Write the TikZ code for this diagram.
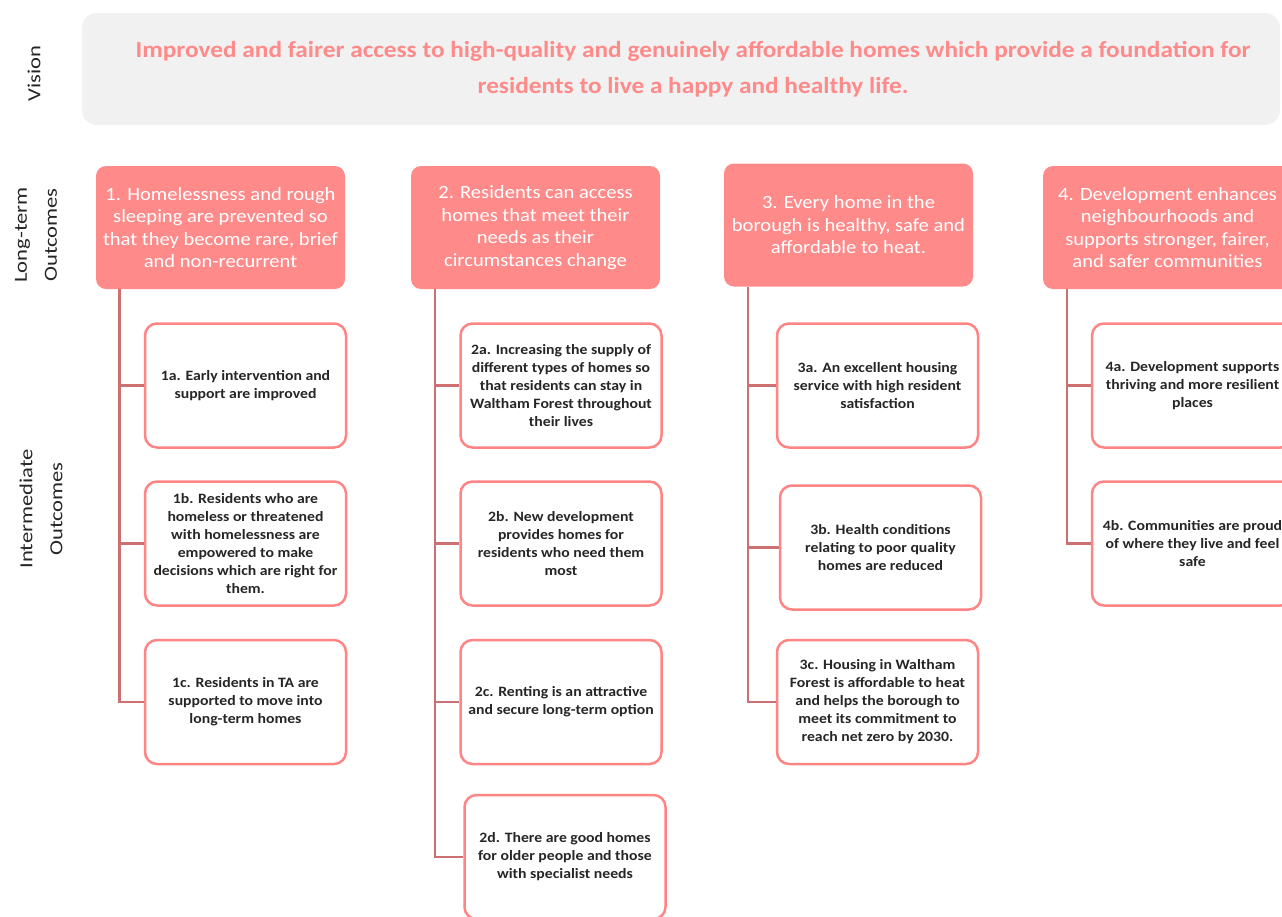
\documentclass[tikz,border=0pt]{standalone}
\usepackage{fontspec}
\setmainfont{Carlito}[FakeStretch=1.1]

\definecolor{salmon}{RGB}{255,138,138}
\definecolor{boxline}{RGB}{255,132,132}
\definecolor{trunkred}{RGB}{204,112,114}
\definecolor{visgray}{RGB}{241,241,241}
\definecolor{textdark}{RGB}{38,38,38}

\begin{document}
\begin{tikzpicture}[x=1pt,y=-1pt,
  visbox/.style ={fill=visgray, rounded corners=15pt, minimum width=1198pt, minimum height=112pt, inner sep=0pt},
  vistxt/.style ={text=salmon, align=center, font=\bfseries\fontsize{23}{36}\selectfont},
  ltbox/.style  ={fill=salmon, rounded corners=10pt, minimum width=249pt, minimum height=123pt,
                  inner sep=0pt, align=center, text=white, font=\fontsize{18.7}{22.5}\selectfont},
  iobox/.style  ={draw=boxline, line width=2.5pt, fill=white, rounded corners=12pt,
                  minimum width=201pt, minimum height=124pt, inner sep=0pt, align=center,
                  text=textdark, font=\bfseries\fontsize{14.3}{18}\selectfont},
  trunk/.style  ={draw=trunkred, line width=2.5pt},
  side/.style   ={rotate=90, xscale=1.11, align=center, text=textdark,
                  font=\fontsize{18.5}{30}\selectfont}]

  \clip (0,0) rectangle (1282,916);

  % ---------------- row labels ----------------
  \node[side] (lvis) at (34,73.5) {Vision};
  \node[side] (llt)  at (36,235)  {Long-term\\Outcomes};
  \node[side] (lio)  at (41,509)  {Intermediate\\Outcomes};

  % ---------------- vision ----------------
  \node[visbox] (vis) at (681,69) {};
  \node[vistxt] (vistext) at (693,69) {Improved and fairer access to high-quality and genuinely affordable homes which provide a foundation for\\residents to live a happy and healthy life.};

  % ---------------- long-term outcomes ----------------
  \node[ltbox] (lt1) at (220.5,227.5) {1. Homelessness and rough\\sleeping are prevented so\\that they become rare, brief\\and non-recurrent};
  \node[ltbox] (lt2) at (535.5,227.5) {2. Residents can access\\homes that meet their\\needs as their\\circumstances change};
  \node[ltbox] (lt3) at (848.5,225)   {3. Every home in the\\borough is healthy, safe and\\affordable to heat.};
  \node[ltbox] (lt4) at (1167.5,227.5) {4. Development enhances\\neighbourhoods and\\supports stronger, fairer,\\and safer communities};

  % ---------------- intermediate outcomes ----------------
  \node[iobox] (io1a) at (245.5,385.5) {1a. Early intervention and\\support are improved};
  \node[iobox] (io1b) at (245.5,543.5) {1b. Residents who are\\homeless or threatened\\with homelessness are\\empowered to make\\decisions which are right for\\them.};
  \node[iobox] (io1c) at (245.5,702)   {1c. Residents in TA are\\supported to move into\\long-term homes};

  \node[iobox] (io2a) at (561,385.5) {2a. Increasing the supply of\\different types of homes so\\that residents can stay in\\Waltham Forest throughout\\their lives};
  \node[iobox] (io2b) at (561,543.5) {2b. New development\\provides homes for\\residents who need them\\most};
  \node[iobox] (io2c) at (561,702)   {2c. Renting is an attractive\\and secure long-term option};
  \node[iobox] (io2d) at (565,857)   {2d. There are good homes\\for older people and those\\with specialist needs};

  \node[iobox] (io3a) at (877.5,385.5) {3a. An excellent housing\\service with high resident\\satisfaction};
  \node[iobox] (io3b) at (880.5,547.5) {3b. Health conditions\\relating to poor quality\\homes are reduced};
  \node[iobox] (io3c) at (877.5,702)   {3c. Housing in Waltham\\Forest is affordable to heat\\and helps the borough to\\meet its commitment to\\reach net zero by 2030.};

  \node[iobox] (io4a) at (1192.5,385.5) {4a. Development supports\\thriving and more resilient\\places};
  \node[iobox] (io4b) at (1192.5,543.5) {4b. Communities are proud\\of where they live and feel\\safe};

  % ---------------- trunks and branches ----------------
  \coordinate (t1) at ([xshift=23.5pt]lt1.south west);
  \draw[trunk] (t1) |- (io1c.west);
  \draw[trunk] (t1 |- io1a.west) -- (io1a.west);
  \draw[trunk] (t1 |- io1b.west) -- (io1b.west);

  \coordinate (t2) at ([xshift=24pt]lt2.south west);
  \draw[trunk] (t2) |- (io2d.west);
  \draw[trunk] (t2 |- io2a.west) -- (io2a.west);
  \draw[trunk] (t2 |- io2b.west) -- (io2b.west);
  \draw[trunk] (t2 |- io2c.west) -- (io2c.west);

  \coordinate (t3) at ([xshift=24pt]lt3.south west);
  \draw[trunk] (t3) |- (io3c.west);
  \draw[trunk] (t3 |- io3a.west) -- (io3a.west);
  \draw[trunk] (t3 |- io3b.west) -- (io3b.west);

  \coordinate (t4) at ([xshift=24pt]lt4.south west);
  \draw[trunk] (t4) |- (io4b.west);
  \draw[trunk] (t4 |- io4a.west) -- (io4a.west);
\end{tikzpicture}
\end{document}
